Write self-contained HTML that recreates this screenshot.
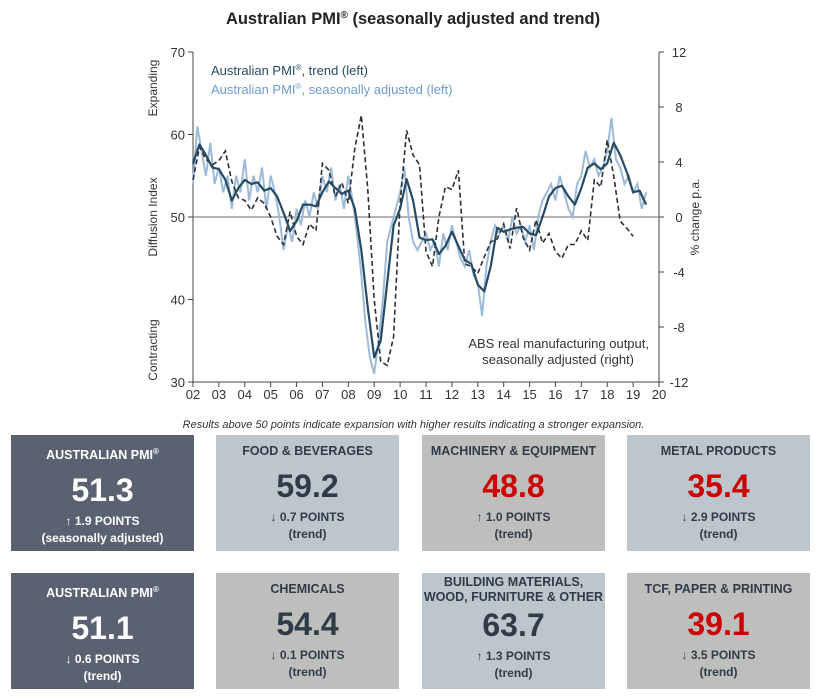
<!DOCTYPE html>
<html><head><meta charset="utf-8"><style>
body{margin:0;width:827px;height:699px;background:#fff;font-family:"Liberation Sans",Arial,sans-serif;position:relative;overflow:hidden}
.box{position:absolute;width:183px;height:116px;text-align:center;font-weight:bold;color:#2f3c48}
.box .h{font-size:12.5px;margin-top:9px;line-height:15px}
.box .v{font-size:32px;margin-top:10px;line-height:34px}
.box .c{font-size:12px;margin-top:6px;line-height:17px}
.dark{background:#5a6272;color:#fff}.blue{background:#bcc6cc}.grey{background:#bebebd}
.red{color:#cc0000}
</style></head><body>
<svg id="chart" width="827" height="420" style="position:absolute;left:0;top:0" font-family="Liberation Sans, Arial, sans-serif"></svg>
<div style="position:absolute;left:0;width:827px;top:419px;text-align:center;font-size:11px;font-style:italic;color:#333">Results above 50 points indicate expansion with higher results indicating a stronger expansion.</div>
<div class="box dark" style="left:11px;top:435px"><div class="h">AUSTRALIAN PMI<sup style="font-size:8px">®</sup></div><div class="v">51.3</div><div class="c">↑ 1.9 POINTS<br>(seasonally adjusted)</div></div>
<div class="box blue" style="left:216px;top:435px"><div class="h">FOOD &amp; BEVERAGES</div><div class="v">59.2</div><div class="c">↓ 0.7 POINTS<br>(trend)</div></div>
<div class="box grey" style="left:422px;top:435px"><div class="h">MACHINERY &amp; EQUIPMENT</div><div class="v red">48.8</div><div class="c">↑ 1.0 POINTS<br>(trend)</div></div>
<div class="box blue" style="left:627px;top:435px"><div class="h">METAL PRODUCTS</div><div class="v red">35.4</div><div class="c">↓ 2.9 POINTS<br>(trend)</div></div>
<div class="box dark" style="left:11px;top:573px"><div class="h">AUSTRALIAN PMI<sup style="font-size:8px">®</sup></div><div class="v">51.1</div><div class="c">↓ 0.6 POINTS<br>(trend)</div></div>
<div class="box grey" style="left:216px;top:573px"><div class="h">CHEMICALS</div><div class="v">54.4</div><div class="c">↓ 0.1 POINTS<br>(trend)</div></div>
<div class="box blue" style="left:422px;top:573px"><div class="h" style="margin-top:2px">BUILDING MATERIALS,<br>WOOD, FURNITURE &amp; OTHER</div><div class="v" style="margin-top:3px">63.7</div><div class="c">↑ 1.3 POINTS<br>(trend)</div></div>
<div class="box grey" style="left:627px;top:573px"><div class="h">TCF, PAPER &amp; PRINTING</div><div class="v red">39.1</div><div class="c">↓ 3.5 POINTS<br>(trend)</div></div>
<script>
const yearLabels=["02","03","04","05","06","07","08","09","10","11","12","13","14","15","16","17","18","19","20"];
const leftTicks=[30,40,50,60,70];
const rightTicks=[-12,-8,-4,0,4,8,12];
const trendStart=2002.0, trendStep=0.25;
const trendValues=[56.5,58.8,57.5,56,55.8,54.5,52,53.5,54.5,54,54.2,53.2,53.5,52.5,50.5,48.3,49.5,51.5,51.5,51.3,53,54.3,53.5,52.8,53.2,51,46,39,33,35,42,49,51,54.6,52,47.5,47.2,47.3,45.5,46.5,48.2,46.5,44.8,44.3,41.8,41,44,48.7,48.2,48.5,48.7,48.8,48,47.8,50,52.5,53.5,53.8,52.5,51.5,53.5,56,56.5,55.8,56.5,59,57.5,55.5,53,53.2,51.5];
const saStart=2002.0, saStep=1/6;
const saValues=[54,61,58,55,59,54, 56,53,55,51,55,53, 57,52,55,53,56,51, 55,53,50,46,49,47, 51,49,52,50,53,51, 55,53,56,52,54,51, 55,52,48,43,37,33, 31,35,40,47,49,51, 53,56,50,47,46,47, 48,46,47,44,48,46, 49,47,45,44,46,43, 42,38,44,47,49,48, 49,47,50,48,49,47, 49,46,50,52,53,54, 52,55,53,51,50,54, 55,58,56,57,55,56, 58,62,57,56,54,55, 53,54,51,53];
const absStart=2002.0, absStep=0.25;
const absValues=[2.7,5.1,4.2,3.8,4.1,4.8,2.6,1.4,1.2,0.5,1.4,1,0,-1.4,-2,0.4,-1.4,-2,-0.5,-1,3.9,3.4,1.5,2.5,1,5,7.4,2,-6,-10.5,-10.8,-8.7,1,6.3,4.5,3.8,-2.5,-3.6,0,2.2,2,3.4,-3.4,-3.6,-4.1,-2.9,-1.8,-1.6,-0.5,-2.3,0.65,-1.5,-2.4,-0.2,-1.9,-1.2,-2.5,-3,-2,-2,-1,-1.7,2.7,2.2,5.6,3,-0.3,-0.8,-1.4];
const svg=document.getElementById('chart');
const NS='http://www.w3.org/2000/svg';
const X0=193,X1=659,YT=52,YB=382;
const xs=t=>X0+(t-2002)/(2020-2002)*(X1-X0);
const yl=v=>YB-(v-30)/40*(YB-YT);
const yr=v=>YB-(v+12)/24*(YB-YT);
function mk(tag,at,txt){const e=document.createElementNS(NS,tag);for(const k in at)e.setAttribute(k,at[k]);if(txt!==undefined)e.textContent=txt;svg.appendChild(e);return e;}
let t=mk('text',{x:413,y:24,'text-anchor':'middle','font-size':16.5,'font-weight':'bold',fill:'#222'});
t.innerHTML='Australian PMI<tspan font-size="10" dy="-6">®</tspan><tspan dy="6"> (seasonally adjusted and trend)</tspan>';


let a=mk('line',{x1:X0,y1:YT,x2:X0,y2:YB,stroke:'#444'});


a=mk('line',{x1:X1,y1:YT,x2:X1,y2:YB,stroke:'#444'});


a=mk('line',{x1:X0,y1:YB,x2:X1,y2:YB,stroke:'#444'});


a=mk('line',{x1:X0,y1:yl(50),x2:X1,y2:yl(50),stroke:'#888','stroke-width':1.3});


leftTicks.forEach(v=>{mk('line',{x1:X0-5,y1:yl(v),x2:X0,y2:yl(v),stroke:'#444'});
 const e=mk('text',{x:X0-8,y:yl(v)+5,'text-anchor':'end','font-size':13,fill:'#333'},v);
 
 });
rightTicks.forEach(v=>{mk('line',{x1:X1,y1:yr(v),x2:X1+5,y2:yr(v),stroke:'#444'});
 const e=mk('text',{x:X1+20,y:yr(v)+5,'text-anchor':'middle','font-size':13,fill:'#333'},v);
 
 });
yearLabels.forEach((l,i)=>{const x=xs(2002+i);mk('line',{x1:x,y1:YB,x2:x,y2:YB+5,stroke:'#444'});
 const e=mk('text',{x:x,y:YB+17,'text-anchor':'middle','font-size':13,fill:'#333'},l);
 
 });
function rot(x,y,s,name){const e=mk('text',{x:x,y:y,transform:`rotate(-90 ${x} ${y})`,'text-anchor':'middle','font-size':12,fill:'#333'},s);
 
 }
rot(157,217,'Diffusion Index','y-axis-title-left');
rot(157,88,'Expanding','expanding-label');
rot(157,350,'Contracting','contracting-label');
rot(699,217,'% change p.a.','y-axis-title-right');
function pts(vals,start,step,yf){return vals.map((v,i)=>xs(start+i*step).toFixed(1)+','+yf(v).toFixed(1)).join(' ');}
let s=mk('polyline',{points:pts(saValues,saStart,saStep,yl),fill:'none',stroke:'#9dbad8','stroke-width':2});


s=mk('polyline',{points:pts(absValues,absStart,absStep,yr),fill:'none',stroke:'#2a2f38','stroke-width':1.6,'stroke-dasharray':'5,3'});


s=mk('polyline',{points:pts(trendValues,trendStart,trendStep,yl),fill:'none',stroke:'#254b63','stroke-width':2.2,'stroke-linejoin':'round'});


t=mk('text',{x:211,y:75,'font-size':13,fill:'#254b63'});t.innerHTML='Australian PMI<tspan font-size="8" dy="-5">®</tspan><tspan dy="5">, trend (left)</tspan>';


t=mk('text',{x:211,y:94,'font-size':13,fill:'#6f9bcf'});t.innerHTML='Australian PMI<tspan font-size="8" dy="-5">®</tspan><tspan dy="5">, seasonally adjusted (left)</tspan>';


t=mk('text',{x:649,y:348,'text-anchor':'end','font-size':13,fill:'#333'},'ABS real manufacturing output,');


t=mk('text',{x:634,y:364,'text-anchor':'end','font-size':13,fill:'#333'},'seasonally adjusted (right)');


</script>
</body></html>
